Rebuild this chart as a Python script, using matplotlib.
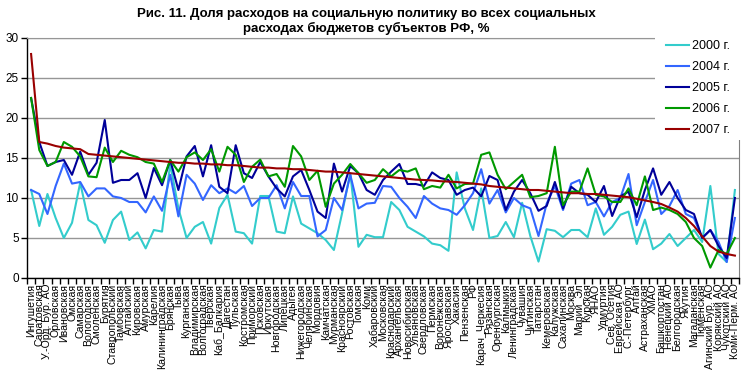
import numpy as np
import matplotlib
matplotlib.use('Agg')
import matplotlib.pyplot as plt
from matplotlib.patches import Rectangle

plt.rcParams['font.family'] = ['Liberation Sans', 'DejaVu Sans']

regions = ["Ингушетия", "Саратовская", "У.-Орд. Бур. АО", "Орловская", "Ивановская",
           "Омская", "Самарская", "Вологодская", "Смоленская", "Бурятия",
           "Ставропольский", "Тамбовская", "Алтайский", "Кировская", "Амурская",
           "Карелия", "Калининградская", "Брянская", "Тыва", "Курганская",
           "Владимирская", "Волгоградская", "Тверская", "Каб_Балкария", "Дагестан",
           "Тульская", "Костромская", "Приморский", "Псковская", "Иркутская",
           "Новгородская", "Липецкая", "Адыгея", "Нижегородская", "Челябинская",
           "Мордовия", "Камчатская", "Мурманская", "Красноярский", "Ростовская",
           "Томская", "Коми", "Хабаровский", "Московская", "Краснодарский",
           "Архангельская", "Новосибирская", "Ульяновская", "Свердловская", "Пермская",
           "Воронежская", "Ярославская", "Хакасия", "Пензенская", "РФ",
           "Карач_Черкесия", "Рязанская", "Оренбургская", "Калмыкия", "Ленинградская",
           "Чувашия", "Читинская", "Татарстан", "Кемеровская", "Калужская",
           "Сахалинская", "Москва", "Марий_Эл", "Курская", "ЯНАО",
           "Удмуртия", "Сев. Осетия", "Еврейская АО", "С.-Петербург", "Алтай",
           "Астраханская", "ХМАО", "Башкортостан", "Ненецкий АО", "Белгородская",
           "Якутия", "Магаданская", "Тюменская", "Агинский Бур. АО", "Корякский АО",
           "Чукотский АО", "Коми-Перм. АО"]

y2000 = [11.0, 6.5, 10.5, 7.5, 5.0, 6.9, 11.9, 7.25, 6.6, 4.4,
         7.25, 8.3, 4.75, 5.7, 3.7, 6.0, 5.8, 14.3, 8.7, 5.0,
         6.4, 7.0, 4.3, 8.75, 10.4, 5.8, 5.6, 4.3, 10.25, 10.25,
         5.8, 5.6, 10.2, 6.8, 6.2, 5.6, 4.75, 3.5, 8.1, 13.1,
         3.9, 5.4, 5.1, 5.1, 9.5, 8.5, 6.4, 5.8, 5.2, 4.3,
         4.1, 3.4, 13.2, 8.7, 6.0, 11.2, 5.0, 5.25, 7.0, 5.1,
         9.4, 5.25, 2.05, 6.1, 5.9, 5.1, 6.0, 6.0, 5.1, 8.7,
         5.4, 6.4, 7.9, 8.3, 4.25, 7.3, 3.6, 4.3, 5.5, 4.0,
         5.0, 6.0, 4.5, 11.5, 3.0, 2.0, 11.0]
y2004 = [11.0, 10.5, 8.0, 11.5, 14.3, 11.8, 12.0, 10.2, 11.2, 11.2,
         10.2, 10.0, 9.5, 9.5, 8.2, 10.2, 8.4, 12.9, 7.7, 12.9,
         11.8, 9.75, 11.6, 10.6, 11.2, 10.6, 11.5, 9.0, 10.0, 10.0,
         11.6, 8.7, 12.0, 10.25, 10.25, 5.2, 6.0, 10.0, 8.5, 12.9,
         8.7, 9.3, 9.4, 11.5, 11.4, 10.0, 8.9, 7.5, 10.25, 9.3,
         8.7, 8.5, 7.9, 9.1, 10.6, 13.6, 9.3, 11.0, 8.2, 10.0,
         9.1, 8.7, 5.25, 9.3, 11.5, 8.5, 11.8, 12.25, 9.1, 9.5,
         7.7, 9.5, 10.0, 13.0, 6.6, 9.5, 12.25, 8.0, 9.0, 11.0,
         8.0, 7.5, 5.0, 6.0, 4.5, 2.0, 7.5]
y2005 = [22.5, 17.0, 14.0, 14.5, 14.75, 12.9, 15.8, 12.9, 14.4, 19.75,
         11.9, 12.25, 12.25, 13.1, 10.0, 13.75, 11.6, 14.75, 11.0, 15.2,
         16.5, 12.7, 16.6, 11.4, 10.6, 16.6, 13.1, 12.5, 14.5, 12.7,
         11.2, 10.2, 12.7, 13.5, 11.0, 8.3, 7.5, 14.3, 10.8, 14.0,
         13.1, 11.0, 10.4, 12.25, 13.3, 14.25, 11.75, 11.75, 11.5, 13.2,
         12.5, 12.25, 10.4, 11.0, 11.3, 10.2, 12.75, 12.25, 8.5, 10.8,
         12.25, 10.6, 8.4, 9.0, 12.0, 8.7, 11.4, 10.6, 10.4, 9.5,
         11.5, 7.75, 10.2, 10.8, 7.6, 11.0, 13.7, 10.4, 12.0, 10.0,
         8.5, 8.0, 5.0, 6.0, 4.0, 2.5, 10.0]
y2006 = [22.5, 16.0, 14.0, 14.5, 17.0, 16.4, 15.2, 12.7, 12.6, 16.3,
         14.5, 15.9, 15.4, 15.1, 14.5, 14.3, 12.0, 14.75, 13.3, 15.1,
         15.7, 14.75, 16.1, 13.3, 16.4, 15.4, 12.0, 13.9, 14.8, 12.7,
         13.0, 11.4, 16.5, 15.2, 12.25, 13.4, 8.9, 11.8, 12.9, 14.25,
         13.1, 11.9, 12.25, 13.6, 12.7, 13.5, 13.3, 13.7, 11.1, 11.5,
         11.3, 12.9, 11.2, 11.75, 11.8, 15.4, 15.7, 12.9, 11.1, 12.0,
         12.9, 10.1, 10.25, 10.6, 16.4, 9.1, 10.8, 10.8, 13.7, 10.4,
         10.2, 9.5, 9.5, 11.2, 9.1, 12.7, 8.5, 8.8, 8.5, 8.0,
         7.0, 5.0, 4.0, 1.3, 3.5, 3.0, 5.0]
y2007 = [28.0, 17.0, 16.8, 16.5, 16.3, 16.2, 16.1, 15.5, 15.4, 15.3,
         15.2, 15.1, 15.0, 14.9, 14.8, 14.7, 14.6, 14.5, 14.4, 14.4,
         14.3, 14.3, 14.2, 14.2, 14.1, 14.1, 14.0, 13.9, 13.8, 13.8,
         13.7, 13.7, 13.6, 13.6, 13.5, 13.4, 13.3, 13.3, 13.2, 13.1,
         13.0, 12.9, 12.8, 12.7, 12.6, 12.5, 12.4, 12.3, 12.25, 12.2,
         12.1, 12.05, 12.0, 11.9, 11.8, 11.7, 11.5, 11.4, 11.3, 11.2,
         11.1, 11.0, 11.0, 10.9, 10.8, 10.7, 10.6, 10.6, 10.5, 10.5,
         10.4, 10.3, 10.2, 10.1, 9.9, 9.7, 9.5, 9.25, 8.8, 8.3,
         7.5, 6.5, 5.2, 4.0, 3.3, 3.0, 2.8]

series_names = ["2000 г.", "2004 г.", "2005 г.", "2006 г.", "2007 г."]
series_values = [y2000, y2004, y2005, y2006, y2007]
colors = ["#33CCCC", "#3366FF", "#000099", "#009900", "#990000"]

title = "Рис. 11. Доля расходов на социальную политику во всех социальных\nрасходах бюджетов субъектов РФ, %"

W, H = 741, 383
fig = plt.figure(figsize=(W / 100, H / 100), dpi=100)
px0, px1, py_bot, py_top = 27, 739, 278, 38
ax = fig.add_axes([px0 / W, 1 - py_bot / H, (px1 - px0) / W, (py_bot - py_top) / H])

x = np.arange(len(regions))
handles = []
for vals, c, name in zip(series_values, colors, series_names):
    ln, = ax.plot(x, vals, color=c, lw=1.5, label=name)
    handles.append(ln)

ax.set_xlim(-0.5, len(regions) - 0.5)
ax.set_ylim(0, 30)
ax.set_yticks(range(0, 31, 5))
ax.yaxis.grid(True, color='#969696', lw=1)
ax.set_axisbelow(True)
ax.tick_params(axis='y', length=4, width=1, labelsize=8.5, pad=2, direction='out')

ax.set_xticks(x)
ax.set_xticklabels(regions, rotation=90, fontsize=7.6)
ax.tick_params(axis='x', which='major', length=0, pad=4)
ax.set_xticks(np.arange(-0.5, len(regions)), minor=True)
ax.tick_params(axis='x', which='minor', length=4, width=1, direction='out')

for s in ['left', 'bottom']:
    ax.spines[s].set_color('black')
    ax.spines[s].set_linewidth(1)
ax.spines['top'].set_color('#969696')
ax.spines['right'].set_color('#808080')

# white legend area covering the top-right corner of the plot area
fig.add_artist(Rectangle((655 / W, 1 - 140 / H), 86 / W, 115 / H,
                         transform=fig.transFigure, facecolor='white',
                         edgecolor='none', zorder=5))
leg = fig.legend(handles=handles, loc='upper left',
                 bbox_to_anchor=(666 / W, 1 - 40 / H), frameon=False,
                 fontsize=9, handlelength=1.85, handletextpad=0.2,
                 labelspacing=0.72, borderaxespad=0, borderpad=0)
leg.set_zorder(6)

fig.text(366 / W, 1 - 8 / H, title, ha='center', va='top', fontsize=9.5,
         fontweight='bold', linespacing=1.2, multialignment='center')

fig.savefig('out.png', dpi=100)
